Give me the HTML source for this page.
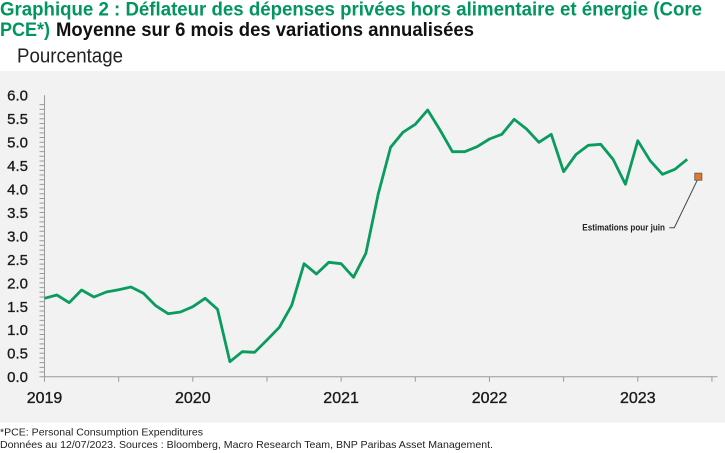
<!DOCTYPE html>
<html>
<head>
<meta charset="utf-8">
<style>
html,body{margin:0;padding:0;background:#fff;}
svg{display:block;}
text{font-family:"Liberation Sans",Arial,sans-serif;}
</style>
</head>
<body>
<svg width="725" height="453" viewBox="0 0 725 453" xmlns="http://www.w3.org/2000/svg">
  <rect x="0" y="0" width="725" height="453" fill="#ffffff"/>
  <!-- title -->
  <text x="0" y="15.5" font-size="19.5" font-weight="bold" fill="#00965E" textLength="702" lengthAdjust="spacingAndGlyphs">Graphique 2 : Déflateur des dépenses privées hors alimentaire et énergie (Core</text>
  <text x="0" y="36" font-size="19.5" font-weight="bold" fill="#00965E" textLength="50" lengthAdjust="spacingAndGlyphs">PCE*)</text>
  <text x="56" y="36" font-size="19.5" font-weight="bold" fill="#111" textLength="418" lengthAdjust="spacingAndGlyphs">Moyenne sur 6 mois des variations annualisées</text>
  <text x="17" y="62.3" font-size="20.5" fill="#222" textLength="106" lengthAdjust="spacingAndGlyphs">Pourcentage</text>

  <!-- panel -->
  <rect x="0" y="71" width="725" height="351.5" fill="#F2F2F2"/>

  <!-- y axis -->
  <line x1="44.5" y1="95.3" x2="44.5" y2="377" stroke="#9a9a9a" stroke-width="1"/>
  <path d="M39.5 376.7h5m-5 -4.69h5m-5 -4.69h5m-5 -4.69h5m-5 -4.69h5m-5 -4.69h5m-5 -4.69h5m-5 -4.69h5m-5 -4.69h5m-5 -4.69h5m-5 -4.69h5m-5 -4.69h5m-5 -4.69h5m-5 -4.69h5m-5 -4.69h5m-5 -4.69h5m-5 -4.69h5m-5 -4.69h5m-5 -4.69h5m-5 -4.69h5m-5 -4.69h5m-5 -4.69h5m-5 -4.69h5m-5 -4.69h5m-5 -4.69h5m-5 -4.69h5m-5 -4.69h5m-5 -4.69h5m-5 -4.69h5m-5 -4.69h5m-5 -4.69h5m-5 -4.69h5m-5 -4.69h5m-5 -4.69h5m-5 -4.69h5m-5 -4.69h5m-5 -4.69h5m-5 -4.69h5m-5 -4.69h5m-5 -4.69h5m-5 -4.69h5m-5 -4.69h5m-5 -4.69h5m-5 -4.69h5m-5 -4.69h5m-5 -4.69h5m-5 -4.69h5m-5 -4.69h5m-5 -4.69h5m-5 -4.69h5m-5 -4.69h5m-5 -4.69h5m-5 -4.69h5m-5 -4.69h5m-5 -4.69h5m-5 -4.69h5m-5 -4.69h5m-5 -4.69h5m-5 -4.69h5" stroke="#9a9a9a" stroke-width="1" fill="none"/>
  <g font-size="15" fill="#1a1a1a" stroke="#1a1a1a" stroke-width="0.3" text-anchor="end">
    <text x="28" y="382.1">0.0</text>
    <text x="28" y="358.65">0.5</text>
    <text x="28" y="335.2">1.0</text>
    <text x="28" y="311.75">1.5</text>
    <text x="28" y="288.3">2.0</text>
    <text x="28" y="264.85">2.5</text>
    <text x="28" y="241.4">3.0</text>
    <text x="28" y="217.95">3.5</text>
    <text x="28" y="194.5">4.0</text>
    <text x="28" y="171.05">4.5</text>
    <text x="28" y="147.6">5.0</text>
    <text x="28" y="124.15">5.5</text>
    <text x="28" y="100.7">6.0</text>
  </g>

  <!-- x axis -->
  <line x1="44.5" y1="376.7" x2="717.5" y2="376.7" stroke="#9a9a9a" stroke-width="1"/>
  <path d="M44.5 376.7v5M118.66 376.7v5M192.82 376.7v5M266.98 376.7v5M341.14 376.7v5M415.3 376.7v5M489.46 376.7v5M563.62 376.7v5M637.78 376.7v5M711.94 376.7v5" stroke="#9a9a9a" stroke-width="1"/>
  <g font-size="16" fill="#1a1a1a" stroke="#1a1a1a" stroke-width="0.35" text-anchor="middle">
    <text x="44.5" y="403">2019</text>
    <text x="192.8" y="403">2020</text>
    <text x="341.1" y="403">2021</text>
    <text x="489.5" y="403">2022</text>
    <text x="637.8" y="403">2023</text>
  </g>

  <!-- series -->
  <polyline fill="none" stroke="#0A9B5E" stroke-width="2.8" stroke-linejoin="round" points="
44.5,298.3 56.86,295 69.22,302.7 81.58,290 93.94,297 106.3,292 118.66,289.7 131.02,287 143.38,293.3 155.74,305.7 168.1,313.7 180.46,312 192.82,306.7 205.18,298.3 217.54,309.3 229.9,361.7 242.26,351.7 254.62,352.3 266.98,340 279.34,327.3 291.7,305.3 304.06,263.7 316.42,274 328.78,262.3 341.14,263.7 353.5,277.3 365.86,253.3 378.22,194 390.58,147.3 402.94,132.3 415.3,124.3 427.66,110 440.02,130 452.38,151.7 464.74,151.7 477.1,146.7 489.46,139 501.82,134.3 514.18,119.3 526.54,129 538.9,142.3 551.26,134.3 563.62,171.7 575.98,154.5 588.34,145.3 600.7,144.3 613.06,159.3 625.42,184.3 637.78,140.7 650.14,160.7 662.5,174.3 674.86,169.3 687.22,159.3"/>

  <!-- estimate marker -->
  <polyline fill="none" stroke="#444" stroke-width="1" points="669.3,227.7 674.3,227.7 697.7,179.3"/>
  <rect x="694.8" y="173.2" width="7" height="7" fill="#E87722" stroke="#666" stroke-width="1"/>
  <text x="582.3" y="230.5" font-size="9" font-weight="bold" fill="#222" textLength="82.7" lengthAdjust="spacingAndGlyphs">Estimations pour juin</text>

  <!-- footnotes -->
  <text x="0" y="435.5" font-size="10.5" fill="#222" textLength="203" lengthAdjust="spacingAndGlyphs">*PCE: Personal Consumption Expenditures</text>
  <text x="0" y="448" font-size="10.5" fill="#222" textLength="493" lengthAdjust="spacingAndGlyphs">Données au 12/07/2023. Sources : Bloomberg, Macro Research Team, BNP Paribas Asset Management.</text>
</svg>
</body>
</html>
